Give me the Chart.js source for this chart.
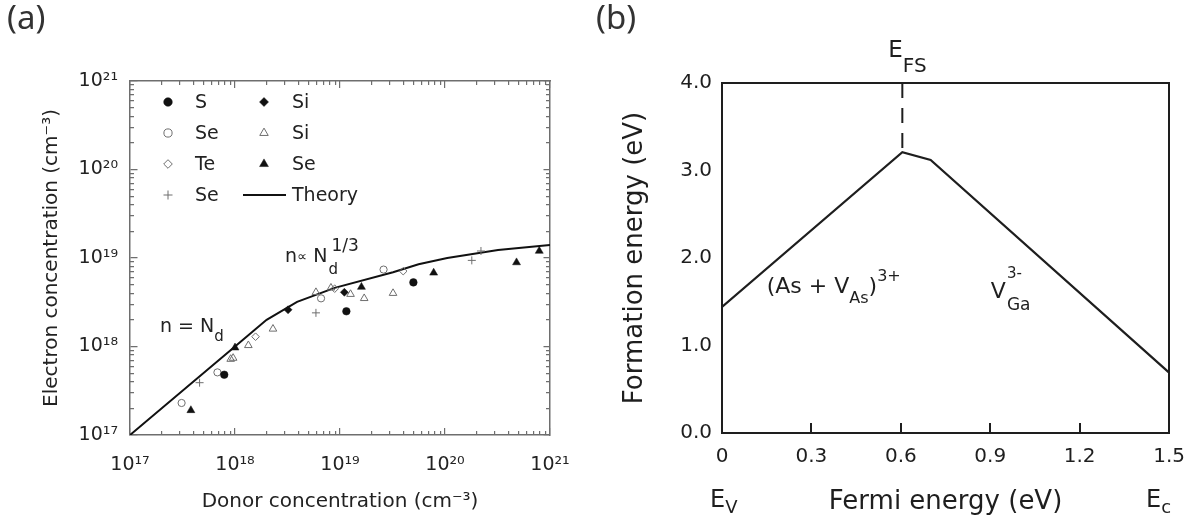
<!DOCTYPE html>
<html>
<head>
<meta charset="utf-8">
<title>Donor doping and defect formation energy</title>
<script src="https://cdn.jsdelivr.net/npm/chart.js@4.4.1/dist/chart.umd.min.js"></script>
<style>
  body { margin: 0; background: #fff; }
  .stage { position: relative; width: 1197px; height: 520px; overflow: hidden; background: #fff; }
  .box { position: absolute; top: 0; height: 520px; }
  #boxA { left: 0; width: 598px; }
  #boxB { left: 598px; width: 599px; }
  .tag { position: absolute; top: -3px; font: 33px "Noto Sans", sans-serif; line-height: 40px; color: #333; }
</style>
</head>
<body>
<div class="stage">
  <div class="box" id="boxA"><canvas id="chartA" width="598" height="520"></canvas></div>
  <div class="box" id="boxB"><canvas id="chartB" width="599" height="520"></canvas></div>
  <div class="tag" style="left:7px">(a)</div>
  <div class="tag" style="left:596px">(b)</div>
</div>
<script>
// ---- (a) electron vs donor concentration, cm^-3 ----
const decades = [1e17, 1e18, 1e19, 1e20, 1e21];
const decadeLabels = ['10¹⁷', '10¹⁸', '10¹⁹', '10²⁰', '10²¹'];
const minorSteps = [2, 3, 4, 5, 6, 7, 8, 9];

// [donor, electron] pairs
const sFilled = [[7.9e17, 4.8e17], [1.15e19, 2.5e18], [5.0e19, 5.3e18]];
const seOpen = [[3.1e17, 2.3e17], [6.8e17, 5.1e17], [6.6e18, 3.5e18], [2.6e19, 7.4e18]];
const teOpen = [[1.57e18, 1.29e18], [8.9e18, 4.5e18], [4.0e19, 7.1e18]];
const sePlus = [[4.6e17, 3.9e17], [5.9e18, 2.4e18], [1.8e20, 9.4e18], [2.2e20, 1.2e19]];
const siFilled = [[3.2e18, 2.6e18], [1.1e19, 4.1e18]];
const siOpen = [[9.1e17, 7.2e17], [9.6e17, 7.4e17], [1.34e18, 1.03e18], [2.3e18, 1.58e18],
  [5.9e18, 4.1e18], [8.2e18, 4.6e18], [1.26e19, 3.9e18], [1.7e19, 3.5e18], [3.2e19, 4.0e18]];
const seFilled = [[3.8e17, 1.9e17], [1.0e18, 9.7e17], [1.6e19, 4.7e18], [7.8e19, 6.8e18],
  [4.8e20, 8.9e18], [7.9e20, 1.2e19]];

const theoryNd = [1e17, 1e18, 2e18, 3.9e18, 8.9e18, 3.2e19, 5.6e19, 1.05e20, 3.2e20, 1e21];
const theoryN = [1e17, 1e18, 2e18, 3.2e18, 4.6e18, 6.9e18, 8.5e18, 1.0e19, 1.23e19, 1.4e19];

// ---- (b) formation energy vs Fermi level, eV ----
const fermiLevel = [0, 0.605, 0.70, 1.5];
const formation = [1.44, 3.21, 3.12, 0.69];
const efsLevel = 0.605;
const efsSpan = [4.0, 3.21];
const fermiTicks = [0, 0.3, 0.6, 0.9, 1.2, 1.5];
const fermiLabels = ['0', '0.3', '0.6', '0.9', '1.2', '1.5'];
const energyTicks = [0, 1, 2, 3, 4];
const energyLabels = ['0.0', '1.0', '2.0', '3.0', '4.0'];

const FONT_A = 'DejaVu Sans';
const FONT_B = 'DejaVu Sans';
const GREY = '#6e6e6e';
const INK = '#1e1e1e';

// minor tick positions of the log axes
const minorTicks = [];
decades.slice(0, -1).forEach(d => minorSteps.forEach(m => minorTicks.push(d * m)));

const toXY = pts => pts.map(([x, y]) => ({x, y}));

function marks(label, pts, style, filled, r) {
  return {
    label,
    data: toXY(pts),
    showLine: false,
    pointStyle: style,
    pointRadius: r,
    pointBackgroundColor: filled ? '#111' : 'rgba(0,0,0,0)',
    pointBorderColor: filled ? '#111' : GREY,
    pointBorderWidth: filled ? 0.5 : 1
  };
}

// write text pieces one after another, each with its own size and baseline shift
function rich(ctx, x, y, parts, family) {
  for (const [text, size, dy] of parts) {
    ctx.font = size + 'px "' + family + '"';
    ctx.fillText(text, x, y + (dy || 0));
    x += ctx.measureText(text).width;
  }
  return x;
}

// inward ticks: grid lines across the plot, dashed so that only both ends show
function logAxis(position, values, tick, span, labels, title) {
  const vertical = position === 'left';
  const axis = {
    type: 'logarithmic',
    position,
    min: decades[0],
    max: decades[decades.length - 1],
    afterBuildTicks: s => { s.ticks = values.map(v => ({value: v})); },
    afterFit: s => {
      if (vertical) s.width = labels ? 130 : 0;
      else s.height = labels ? 85 : 0;
    },
    border: {display: !!labels, color: GREY, width: 1.5, dash: [tick, span - 2 * tick, 30]},
    grid: {
      drawOnChartArea: true,
      drawTicks: false,
      color: GREY,
      lineWidth: 1.2
    },
    ticks: {
      display: !!labels,
      autoSkip: false,
      maxRotation: 0,
      minRotation: 0,
      padding: vertical ? 12 : 19,
      color: '#222',
      font: {family: FONT_A, size: 19},
      callback: (v, i) => labels ? labels[i] : ''
    }
  };
  if (title) {
    axis.title = {
      display: true, text: title, color: '#222',
      font: {family: FONT_A, size: 20},
      padding: vertical ? {top: 40} : {bottom: 6}
    };
  }
  return axis;
}

// plain border for the top and right sides of a frame
function frameAxis(position, color, width) {
  const vertical = position === 'right';
  return {
    type: 'linear', position, min: 0, max: 1,
    afterFit: s => { if (vertical) s.width = 0; else s.height = 0; },
    border: {display: true, color, width},
    grid: {drawOnChartArea: false, drawTicks: false},
    ticks: {display: false}
  };
}

// legend of panel (a): two columns of four, drawn inside the frame
const legendA = {
  id: 'legendA',
  afterDatasetsDraw(chart) {
    const {ctx, chartArea} = chart;
    const markX = [38, 134];
    const textX = [65, 162];
    ctx.save();
    chart.data.datasets.forEach((ds, i) => {
      const col = Math.floor(i / 4);
      const y = chartArea.top + 21 + (i % 4) * 31;
      const x = chartArea.left + markX[col];
      if (ds.showLine) {
        ctx.strokeStyle = ds.borderColor;
        ctx.lineWidth = ds.borderWidth;
        ctx.beginPath();
        ctx.moveTo(chartArea.left + 113, y);
        ctx.lineTo(chartArea.left + 156, y);
        ctx.stroke();
      } else {
        ctx.fillStyle = ds.pointBackgroundColor;
        ctx.strokeStyle = ds.pointBorderColor;
        ctx.lineWidth = ds.pointBorderWidth;
        Chart.helpers.drawPoint(ctx, {pointStyle: ds.pointStyle, radius: ds.pointRadius + 0.5, borderWidth: ds.pointBorderWidth, rotation: 0}, x, y);
      }
      ctx.fillStyle = '#222';
      ctx.textBaseline = 'middle';
      ctx.font = '19px "' + FONT_A + '"';
      ctx.fillText(ds.label, chartArea.left + textX[col], y + 1);
    });
    ctx.restore();
  }
};

const notesA = {
  id: 'notesA',
  afterDatasetsDraw(chart) {
    const {ctx, scales: {x, y}} = chart;
    ctx.save();
    ctx.fillStyle = '#222';
    ctx.textBaseline = 'alphabetic';
    rich(ctx, x.getPixelForValue(1.93e17), y.getPixelForValue(1.44e18), [['n = N', 19], ['d', 15, 9]], FONT_A);
    const x0 = x.getPixelForValue(3.0e18), y0 = y.getPixelForValue(8.9e18);
    const xe = rich(ctx, x0, y0, [['n', 19], ['∝', 14, -1], [' N', 19]], FONT_A);
    rich(ctx, xe + 1, y0 + 12, [['d', 15]], FONT_A);
    rich(ctx, xe + 4, y0 - 11, [['1/3', 17]], FONT_A);
    ctx.restore();
  }
};

new Chart(document.getElementById('chartA'), {
  type: 'scatter',
  data: {
    datasets: [
      marks('S', sFilled, 'circle', true, 3.8),
      marks('Se', seOpen, 'circle', false, 3.6),
      marks('Te', teOpen, 'rectRot', false, 3.8),
      marks('Se', sePlus, 'cross', false, 4),
      marks('Si', siFilled, 'rectRot', true, 4),
      marks('Si', siOpen, 'triangle', false, 4.4),
      marks('Se', seFilled, 'triangle', true, 4.6),
      {
        label: 'Theory',
        data: theoryNd.map((v, i) => ({x: v, y: theoryN[i]})),
        showLine: true,
        borderColor: '#111',
        borderWidth: 2,
        pointRadius: 0
      }
    ]
  },
  options: {
    responsive: false,
    animation: false,
    events: [],
    layout: {padding: {top: 81, right: 48, left: 0, bottom: 0}},
    plugins: {legend: {display: false}, tooltip: {enabled: false}},
    scales: {
      x: logAxis('bottom', decades, 7, 354, decadeLabels, 'Donor concentration (cm⁻³)'),
      xm: logAxis('bottom', minorTicks, 4, 354),
      y: logAxis('left', decades, 7, 420, decadeLabels, 'Electron concentration (cm⁻³)'),
      ym: logAxis('left', minorTicks, 4, 420),
      x2: frameAxis('top', GREY, 1.5),
      y2: frameAxis('right', GREY, 1.5)
    }
  },
  plugins: [legendA, notesA]
});

// ---- panel (b) ----
const notesB = {
  id: 'notesB',
  afterDatasetsDraw(chart) {
    const {ctx, scales: {x, y}} = chart;
    ctx.save();
    ctx.fillStyle = INK;
    ctx.textBaseline = 'alphabetic';
    rich(ctx, x.getPixelForValue(efsLevel) - 14, 57, [['E', 23], ['FS', 20, 15]], FONT_B);
    rich(ctx, x.getPixelForValue(0) - 12, 507, [['E', 24], ['V', 18, 6]], FONT_B);
    rich(ctx, x.getPixelForValue(1.5) - 23, 507, [['E', 24], ['c', 18, 6]], FONT_B);
    rich(ctx, x.getPixelForValue(0.15), y.getPixelForValue(1.60),
      [['(As + V', 22], ['As', 16, 10], [')', 22], ['3+', 16, -12]], FONT_B);
    const yv = y.getPixelForValue(1.54);
    const xv = rich(ctx, x.getPixelForValue(0.902), yv, [['V', 22]], FONT_B);
    rich(ctx, xv + 1, yv - 20, [['3-', 15]], FONT_B);
    rich(ctx, xv + 1, yv + 12, [['Ga', 17]], FONT_B);
    ctx.restore();
  }
};

new Chart(document.getElementById('chartB'), {
  type: 'scatter',
  data: {
    datasets: [
      {
        label: 'formation energy',
        data: fermiLevel.map((v, i) => ({x: v, y: formation[i]})),
        showLine: true,
        borderColor: INK,
        borderWidth: 2.2,
        pointRadius: 0
      },
      {
        label: 'E_FS',
        data: efsSpan.map(v => ({x: efsLevel, y: v})),
        showLine: true,
        borderColor: INK,
        borderWidth: 2,
        borderDash: [15, 10],
        pointRadius: 0
      }
    ]
  },
  options: {
    responsive: false,
    animation: false,
    events: [],
    layout: {padding: {top: 83, right: 26, left: 0, bottom: 0}},
    plugins: {legend: {display: false}, tooltip: {enabled: false}},
    scales: {
      x: {
        type: 'linear', position: 'bottom', min: 0, max: 1.5,
        afterBuildTicks: s => { s.ticks = fermiTicks.map(v => ({value: v})); },
        afterFit: s => { s.height = 87; },
        // only the bottom 9 px of each grid line is drawn: short inward ticks
        border: {display: true, color: INK, width: 2, dash: [0, 340, 30]},
        grid: {drawOnChartArea: true, drawTicks: false, color: INK, lineWidth: 2},
        ticks: {
          autoSkip: false, maxRotation: 0, minRotation: 0, padding: 12, color: INK,
          font: {family: FONT_B, size: 20},
          callback: (v, i) => fermiLabels[i]
        },
        title: {display: true, text: 'Fermi energy (eV)', color: INK, font: {family: FONT_B, size: 26}, padding: {bottom: 2}}
      },
      y: {
        type: 'linear', position: 'left', min: 0, max: 4,
        afterBuildTicks: s => { s.ticks = energyTicks.map(v => ({value: v})); },
        afterFit: s => { s.width = 124; },
        border: {display: true, color: INK, width: 2},
        grid: {drawOnChartArea: false, drawTicks: false},
        ticks: {
          padding: 10, color: INK, font: {family: FONT_B, size: 20},
          callback: (v, i) => energyLabels[i]
        },
        title: {display: true, text: 'Formation energy (eV)', color: INK, font: {family: FONT_B, size: 26}, padding: {top: 22}}
      },
      x2: frameAxis('top', INK, 2),
      y2: frameAxis('right', INK, 2)
    }
  },
  plugins: [notesB]
});
</script>
</body>
</html>
